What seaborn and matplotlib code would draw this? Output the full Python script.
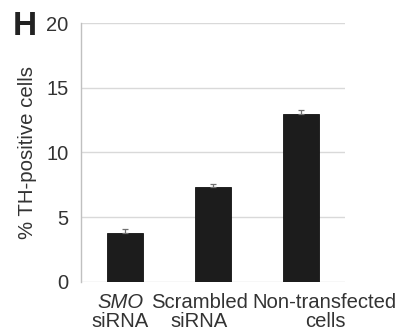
import matplotlib
matplotlib.use("Agg")
import matplotlib.pyplot as plt
import seaborn as sns
import pandas as pd

categories = ["SMO siRNA", "Scrambled siRNA", "Non-transfected cells"]
label_line1 = ["SMO", "Scrambled", "Non-transfected"]
label_line2 = ["siRNA", "siRNA", "cells"]
label_italic = [True, False, False]
values = [3.8, 7.3, 12.95]
errors = [0.25, 0.3, 0.3]
yticks = [0, 5, 10, 15, 20]

sns.set_theme(style="white")
plt.rcParams["font.family"] = ["Liberation Sans", "DejaVu Sans"]

text_col = "#333333"
fig = plt.figure(figsize=(3.99, 3.34), dpi=100)
ax = fig.add_axes([0.203, 0.156, 0.662, 0.775])

df = pd.DataFrame({"group": categories, "pct": values})
sns.barplot(data=df, x="group", y="pct", color="#1c1c1c", width=0.41,
            errorbar=None, saturation=1, ax=ax, zorder=3,
            edgecolor="#111111", linewidth=0.6)
ax.errorbar(range(len(values)), values,
            yerr=[[0] * len(values), errors], fmt="none",
            ecolor="#707070", elinewidth=0.9, capsize=2.5, capthick=0.9,
            zorder=4)

ax.set_xlim(-0.5, 2.5)
ax.set_ylim(0, 20)
ax.set_yticks(yticks)
ax.yaxis.grid(True, color="#d9d9d9", linewidth=1.0, zorder=0)
ax.set_axisbelow(True)
for side in ["top", "right", "bottom"]:
    ax.spines[side].set_visible(False)
ax.spines["left"].set_color("#c0c0c0")
ax.spines["left"].set_linewidth(1.0)
ax.tick_params(axis="y", length=0, pad=9, labelsize=14.5, labelcolor=text_col)
ax.set_xticks([])
ax.set_xlabel("")
ax.set_ylabel("% TH-positive cells", fontsize=14.7, color=text_col, labelpad=7)

# two-line category labels under the bars
shifts = [-0.057, -0.155, 0.27]
trans = ax.get_xaxis_transform()
for i, (l1, l2, it) in enumerate(zip(label_line1, label_line2, label_italic)):
    x = i + shifts[i]
    ax.text(x, -0.042, l1, transform=trans, ha="center", va="top",
            fontsize=14.6, color=text_col, style="italic" if it else "normal")
    ax.text(x, -0.118, l2, transform=trans, ha="center", va="top",
            fontsize=14.6, color=text_col)

fig.text(0.031, 0.92, "H", fontsize=24, fontweight="bold", color="#222222",
         ha="left", va="center")

fig.savefig("out.png", dpi=100)
